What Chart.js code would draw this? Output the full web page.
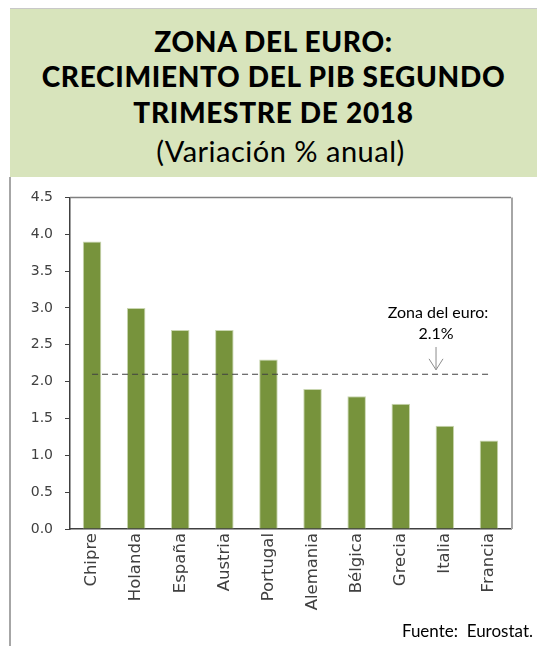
<!DOCTYPE html>
<html>
<head>
<meta charset="utf-8">
<script src="https://cdn.jsdelivr.net/npm/chart.js@4"></script>
<style>
    html, body { margin: 0; padding: 0; background: #fff; }
    body { width: 537px; height: 646px; position: relative; overflow: hidden; font-family: Lato, sans-serif; }
    .top-rule { position: absolute; left: 10px; top: 8px; width: 527px; height: 1px; background: #c8c8c8; }
    .header { position: absolute; left: 10px; top: 9px; width: 527px; height: 168px; background: #d8e4bc; }
    .title-line { position: absolute; left: 0; width: 100%; text-align: center; font-weight: 900; font-size: 28px; letter-spacing: 0.7px; color: #000; line-height: 1; white-space: nowrap; }
    .subtitle { position: absolute; left: 14px; right: 0; text-align: center; font-size: 29px; letter-spacing: 0.5px; color: #000; line-height: 1; white-space: nowrap; }
    .left-rule { position: absolute; left: 9px; top: 177px; width: 2px; height: 469px; background: #a6a6a6; }
    #chart-box { position: absolute; left: 11px; top: 177px; width: 526px; height: 469px; }
    .source { position: absolute; right: 4px; top: 620px; font-size: 17px; color: #000; white-space: pre; }
</style>
</head>
<body>
<div class="top-rule"></div>
<div class="header">
    <div class="title-line" style="top: 18px;">ZONA DEL EURO:</div>
    <div class="title-line" style="top: 53px;">CRECIMIENTO DEL PIB SEGUNDO</div>
    <div class="title-line" style="top: 89px;">TRIMESTRE DE 2018</div>
    <div class="subtitle" style="top: 127px;">(Variación % anual)</div>
</div>
<div class="left-rule"></div>
<div id="chart-box"><canvas id="gdpChart"></canvas></div>
<div class="source">Fuente:  Eurostat.</div>

<script>
// Data
const countries = ['Chipre', 'Holanda', 'España', 'Austria', 'Portugal', 'Alemania', 'Bélgica', 'Grecia', 'Italia', 'Francia'];
const growth = [3.9, 3.0, 2.7, 2.7, 2.3, 1.9, 1.8, 1.7, 1.4, 1.2];
const euroAreaValue = 2.1;
const euroAreaLine = countries.map(() => euroAreaValue);
const yTicks = [0, 0.5, 1.0, 1.5, 2.0, 2.5, 3.0, 3.5, 4.0, 4.5];

const barColor = '#77933c';
const axisColor = '#404040';
const tickFont = { family: '"DejaVu Sans", sans-serif', size: 14 };
const catFont = { family: '"DejaVu Sans", sans-serif', size: 16.5 };

// Frame on top and right of the plot plus the euro-area note
const framePlugin = {
    id: 'frame',
    beforeDatasetsDraw(chart) {
        const { ctx, chartArea } = chart;
        ctx.save();
        ctx.strokeStyle = '#7f7f7f';
        ctx.lineWidth = 1.5;
        ctx.beginPath();
        ctx.moveTo(chartArea.left, chartArea.top);
        ctx.lineTo(chartArea.right, chartArea.top);
        ctx.stroke();
        ctx.strokeStyle = '#a6a6a6';
        ctx.lineWidth = 2;
        ctx.beginPath();
        ctx.moveTo(chartArea.right + 1, chartArea.top);
        ctx.lineTo(chartArea.right + 1, chartArea.bottom);
        ctx.stroke();
        ctx.restore();
    },
    afterDatasetsDraw(chart) {
        const { ctx } = chart;
        const x = chart.scales.x.getPixelForValue(7.8);
        const y = chart.scales.y;
        ctx.save();
        ctx.fillStyle = '#000';
        ctx.font = '16px Lato, sans-serif';
        ctx.textAlign = 'center';
        ctx.textBaseline = 'middle';
        ctx.fillText('Zona del euro:', x + 2, y.getPixelForValue(2.93));
        ctx.fillText(euroAreaValue.toFixed(1) + '%', x, y.getPixelForValue(2.65));
        const y0 = y.getPixelForValue(2.47);
        const y1 = y.getPixelForValue(2.16);
        ctx.strokeStyle = '#8c8c8c';
        ctx.lineWidth = 1;
        ctx.beginPath();
        ctx.moveTo(x, y0);
        ctx.lineTo(x, y1);
        ctx.moveTo(x - 7, y1 - 11);
        ctx.lineTo(x, y1);
        ctx.lineTo(x + 7, y1 - 11);
        ctx.stroke();
        ctx.restore();
    }
};

new Chart(document.getElementById('gdpChart'), {
    type: 'bar',
    data: {
        labels: countries,
        datasets: [
            {
                type: 'line',
                data: euroAreaLine,
                borderColor: '#404040',
                borderWidth: 1.2,
                borderDash: [6, 4],
                pointRadius: 0,
                fill: false,
                order: 1
            },
            {
                data: growth,
                backgroundColor: barColor,
                borderColor: '#c9d6b0',
                borderWidth: 1,
                barPercentage: 0.42,
                categoryPercentage: 1,
                order: 2
            }
        ]
    },
    options: {
        responsive: true,
        maintainAspectRatio: false,
        animation: false,
        layout: { padding: { left: 0, top: 17, right: 26, bottom: 0 } },
        plugins: { legend: { display: false }, tooltip: { enabled: false } },
        scales: {
            x: {
                grid: { display: false, drawTicks: false },
                border: { color: axisColor, width: 1.5 },
                ticks: { color: axisColor, font: catFont, minRotation: 90, maxRotation: 90, padding: 4 },
                afterFit(scale) { scale.height = 117; }
            },
            y: {
                min: 0,
                max: 4.5,
                afterBuildTicks(scale) { scale.ticks = yTicks.map(v => ({ value: v })); },
                grid: { drawOnChartArea: false, drawTicks: true, tickLength: 5, color: axisColor },
                border: { color: axisColor, width: 1.5 },
                ticks: { color: axisColor, font: tickFont, padding: 12, callback: v => Number(v).toFixed(1) },
                afterFit(scale) { scale.width = 59; }
            }
        }
    },
    plugins: [framePlugin]
});
</script>
</body>
</html>
